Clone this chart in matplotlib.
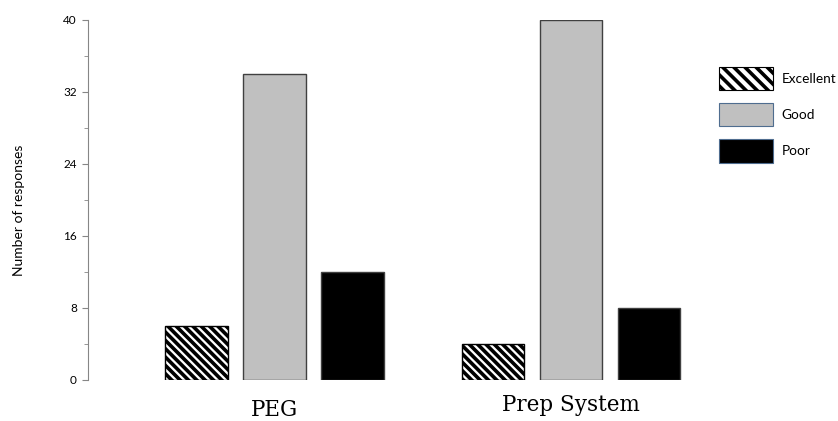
import numpy as np
import matplotlib.pyplot as plt
from matplotlib.patches import Patch

# data
groups = ['PEG', 'Prep System']
ratings = ['Excellent', 'Good', 'Poor']
excellent = [6, 4]
good = [34, 40]
poor = [12, 8]

plt.rcParams['font.family'] = ['Lato', 'DejaVu Sans']
plt.rcParams['hatch.linewidth'] = 2.6

fig = plt.figure(figsize=(8.38, 4.21), dpi=100)
ax = fig.add_axes([88 / 838, 41 / 421, 612 / 838, 360 / 421])

width = 0.8
group_pos = np.array([0.0, 3.8])
hatch = '\\\\\\\\'
styles = [
    dict(facecolor='white', hatch=hatch, edgecolor='black'),
    dict(facecolor='#c0c0c0', edgecolor='#404040'),
    dict(facecolor='black', edgecolor='#404040'),
]
series = [excellent, good, poor]
for i, (vals, st) in enumerate(zip(series, styles)):
    ax.bar(group_pos + i, vals, width=width, linewidth=1, **st)

ax.set_ylim(0, 40)
ax.set_xlim(-1.39, 6.455)
ax.set_yticks(np.arange(0, 41, 8))
ax.set_yticks(np.arange(4, 40, 8), minor=True)
ax.tick_params(axis='y', which='major', length=4, color='#868686', labelsize=8.5, pad=4)
ax.tick_params(axis='y', which='minor', length=3, color='#868686')
ax.set_xticks([])
for s in ['top', 'right', 'bottom']:
    ax.spines[s].set_visible(False)
ax.spines['left'].set_color('#868686')

fig.text(19 / 838, 0.5, 'Number of responses', rotation=90, va='center', ha='center',
         fontsize=10)

# group names sit on slightly different baselines in the reference
label_y = [-0.1, -0.085]
for x, name, y in zip(group_pos + 1, groups, label_y):
    ax.text(x, y, name, transform=ax.get_xaxis_transform(), ha='center', va='baseline',
            fontsize=15.5, family='DejaVu Serif')

handles = [Patch(facecolor='white', hatch='\\\\\\', edgecolor='black', linewidth=0.8),
           Patch(facecolor='#c0c0c0', edgecolor='#4f6d8f', linewidth=0.8),
           Patch(facecolor='black', edgecolor='#4f6d8f', linewidth=0.8)]
fig.legend(handles, ratings, loc='upper left', bbox_to_anchor=(719 / 838, 1 - 67 / 421),
           frameon=False, fontsize=9.8, handlelength=4.0, handleheight=2.25,
           labelspacing=0.95, handletextpad=0.6, borderpad=0, borderaxespad=0)

plt.savefig('out.png', dpi=100)
